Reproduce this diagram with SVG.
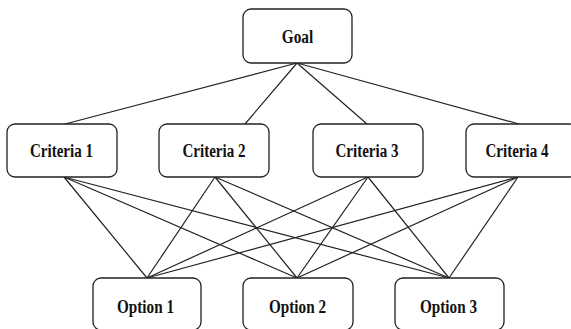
<svg xmlns="http://www.w3.org/2000/svg" width="571" height="329" viewBox="0 0 571 329">
<style>
.box{fill:#fff;stroke:#222;stroke-width:1.3}
.lbl{font-family:"Liberation Serif","Times New Roman",serif;font-weight:bold;font-size:18px;fill:#111;text-anchor:middle}
.con line{stroke:#222;stroke-width:1.2}
</style>
<rect width="571" height="329" fill="#fff"/>
<g class="con" id="connectors">
<line x1="297" y1="63" x2="65" y2="124"/>
<line x1="297" y1="63" x2="245" y2="124"/>
<line x1="297" y1="63" x2="367" y2="124"/>
<line x1="297" y1="63" x2="519" y2="124"/>
<line x1="64" y1="177" x2="147" y2="278"/>
<line x1="64" y1="177" x2="297" y2="278"/>
<line x1="64" y1="177" x2="449" y2="278"/>
<line x1="215" y1="177" x2="147" y2="278"/>
<line x1="215" y1="177" x2="297" y2="278"/>
<line x1="215" y1="177" x2="449" y2="278"/>
<line x1="368" y1="177" x2="147" y2="278"/>
<line x1="368" y1="177" x2="297" y2="278"/>
<line x1="368" y1="177" x2="449" y2="278"/>
<line x1="518" y1="177" x2="147" y2="278"/>
<line x1="518" y1="177" x2="297" y2="278"/>
<line x1="518" y1="177" x2="449" y2="278"/>
</g>
<g id="goal"><rect class="box" x="243" y="9" width="109" height="54" rx="8"/><text class="lbl" x="297.5" y="42.5" textLength="31.5" lengthAdjust="spacingAndGlyphs">Goal</text></g>
<g id="criteria1"><rect class="box" x="7" y="124" width="110" height="53" rx="8"/><text class="lbl" x="61.5" y="157" textLength="63" lengthAdjust="spacingAndGlyphs">Criteria 1</text></g>
<g id="criteria2"><rect class="box" x="159" y="124" width="110" height="53" rx="8"/><text class="lbl" x="214" y="157" textLength="63" lengthAdjust="spacingAndGlyphs">Criteria 2</text></g>
<g id="criteria3"><rect class="box" x="313" y="124" width="110" height="53" rx="8"/><text class="lbl" x="367" y="157" textLength="63" lengthAdjust="spacingAndGlyphs">Criteria 3</text></g>
<g id="criteria4"><rect class="box" x="466" y="124" width="112" height="53" rx="8"/><text class="lbl" x="517" y="157" textLength="63" lengthAdjust="spacingAndGlyphs">Criteria 4</text></g>
<g id="option1"><rect class="box" x="93" y="278" width="108" height="52" rx="8"/><text class="lbl" x="145.5" y="313" textLength="57" lengthAdjust="spacingAndGlyphs">Option 1</text></g>
<g id="option2"><rect class="box" x="243" y="278" width="110" height="52" rx="8"/><text class="lbl" x="297.5" y="313" textLength="57" lengthAdjust="spacingAndGlyphs">Option 2</text></g>
<g id="option3"><rect class="box" x="395" y="278" width="109" height="52" rx="8"/><text class="lbl" x="448.5" y="313" textLength="57" lengthAdjust="spacingAndGlyphs">Option 3</text></g>
</svg>
